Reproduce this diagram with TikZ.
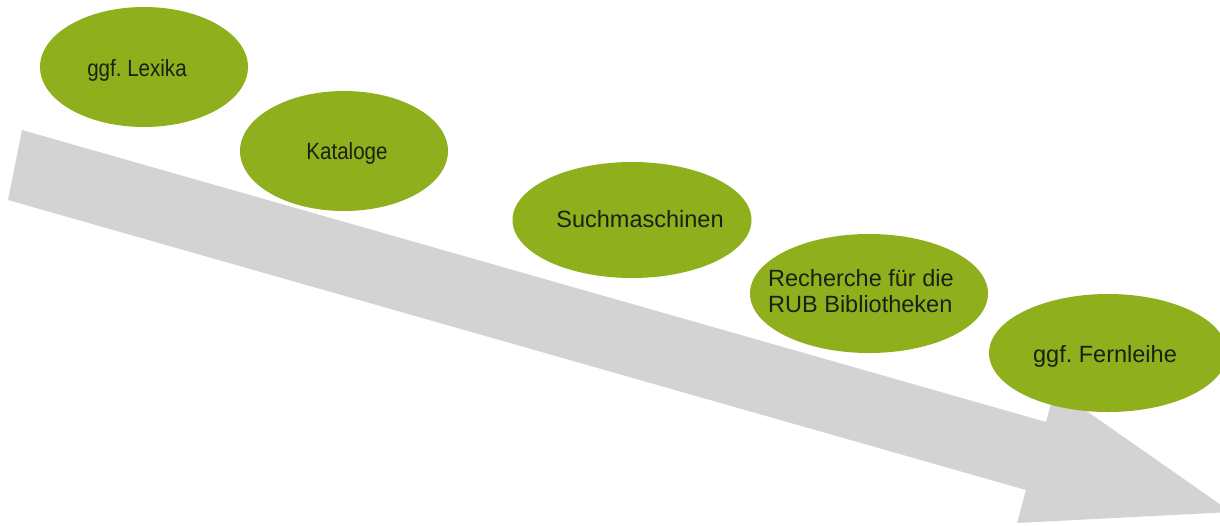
\documentclass[tikz,border=0pt]{standalone}
\usepackage{fontspec}
\setmainfont{Liberation Sans}
\newfontfamily\narrowsans[FakeStretch=0.875]{Liberation Sans}
\usetikzlibrary{shapes.geometric}
\definecolor{leaf}{RGB}{143,176,28}
\definecolor{band}{RGB}{211,211,211}
\definecolor{ink}{RGB}{28,32,20}
\frenchspacing
\begin{document}
\begin{tikzpicture}[x=1pt,y=-1pt,
  blob/.style={ellipse, fill=leaf, draw=none, inner sep=0pt},
  lbl/.style={text=ink, font=\frenchspacing\fontsize{23.5}{26}\selectfont, inner sep=0pt, anchor=base},
  narrowlbl/.style={lbl, font=\frenchspacing\narrowsans\fontsize{23.5}{26}\selectfont}]
\useasboundingbox (0,0) rectangle (1220,525);
\clip (0,0) rectangle (1220,525);
\fill[white] (0,0) rectangle (1220,525);
% big gray arrow
\coordinate (tailT) at (22,130);
\coordinate (neckT) at (1046,422);
\coordinate (headT) at (1055,389);
\coordinate (tip)   at (1231,512);
\coordinate (headB) at (1017,523);
\coordinate (neckB) at (1026,490);
\coordinate (tailB) at (8,200);
\fill[band] (tailT) -- (neckT) -- (headT) -- (tip) -- (headB) -- (neckB) -- (tailB) -- cycle;
% ellipses
\node[blob, minimum width=208pt, minimum height=120pt] (lexika) at (144,67) {};
\node[blob, minimum width=208pt, minimum height=120pt] (kataloge) at (344,151) {};
\node[blob, minimum width=239pt, minimum height=116pt] (such) at (632,220) {};
\node[blob, minimum width=238pt, minimum height=119pt] (rub) at (869,293.5) {};
\node[blob, minimum width=238pt, minimum height=118pt] (fern) at (1108,353) {};
% texts
\node[narrowlbl] (lexikaT) at (137,76) {ggf. Lexika};
\node[narrowlbl] (katalogeT) at (347,159) {Kataloge};
\node[lbl] (suchT) at (640,227) {Suchmaschinen};
\node[lbl, anchor=west, align=left] (rubT) at (768,291.5) {Recherche für die\\RUB Bibliotheken};
\node[lbl] (fernT) at (1105,362) {ggf. Fernleihe};
\end{tikzpicture}
\end{document}
